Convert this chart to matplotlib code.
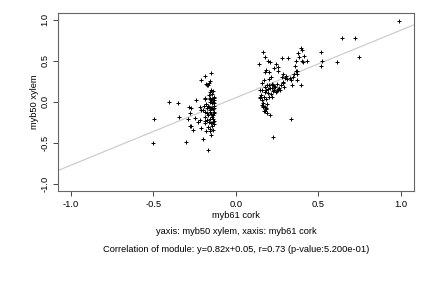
import matplotlib
matplotlib.use("Agg")
import matplotlib.pyplot as plt
import numpy as np

plt.rcParams['font.family'] = ['Liberation Sans', 'DejaVu Sans']

# myb61 cork (x) vs myb50 xylem (y)
cork_left = [-0.496, -0.502, -0.406, -0.35, -0.345, -0.30, -0.285, -0.27, -0.29, -0.28,
             -0.28, -0.275, -0.26, -0.25, -0.24, -0.215, -0.21, -0.215, -0.21, -0.20,
             -0.21, -0.23,
             -0.19, -0.18, -0.175, -0.165, -0.16, -0.15, -0.17,
             -0.19, -0.185, -0.18, -0.175, -0.17, -0.165, -0.16, -0.155, -0.15, -0.145,
             -0.14, -0.15, -0.145, -0.14, -0.135, -0.13, -0.145, -0.14, -0.135, -0.13,
             -0.16, -0.155, -0.15, -0.145, -0.14, -0.135, -0.13, -0.17, -0.175, -0.165,
             -0.16, -0.155, -0.15, -0.145, -0.17, -0.185, -0.19, -0.195, -0.2, -0.185,
             -0.175, -0.165, -0.155, -0.14, -0.13, -0.135, -0.15, -0.14, -0.145, -0.16,
             -0.17, -0.18, -0.19, -0.14, -0.135, -0.15, -0.155, -0.16, -0.13]
xylem_left = [-0.21, -0.50, 0.00, -0.02, -0.19, -0.49, -0.06, -0.08, -0.21, -0.14,
              -0.30, -0.29, -0.34, -0.20, 0.02, -0.06, -0.10, -0.22, -0.32, -0.45,
              0.27, -0.25,
              0.31, 0.22, 0.20, 0.23, 0.25, 0.35, 0.21,
              0.04, 0.05, -0.03, -0.08, -0.05, -0.06, 0.00, 0.12, 0.14, 0.10,
              0.13, 0.02, -0.02, 0.00, 0.06, -0.02, -0.07, -0.09, -0.12, -0.08,
              -0.10, -0.12, -0.15, -0.18, -0.21, -0.23, -0.27, -0.16, -0.22, -0.25,
              -0.33, -0.36, -0.40, -0.30, -0.31, -0.12, -0.18, -0.05, -0.10, -0.26,
              -0.14, 0.08, 0.05, -0.16, -0.14, -0.05, -0.26, -0.25, 0.04, -0.07,
              -0.59, -0.35, -0.23, -0.34, 0.02, -0.08, -0.21, 0.03, 0.05]

cork_right = [0.14, 0.165, 0.175, 0.193, 0.209, 0.231, 0.243, 0.279, 0.317, 0.357,
              0.367, 0.379, 0.394, 0.40, 0.385, 0.40, 0.416, 0.43, 0.41, 0.373,
              0.37, 0.368, 0.394, 0.343, 0.351, 0.327,
              0.311, 0.307, 0.289, 0.293, 0.267, 0.263, 0.249, 0.231, 0.221, 0.213,
              0.203, 0.199, 0.181, 0.175, 0.173, 0.159, 0.157, 0.155, 0.149, 0.145,
              0.145, 0.177, 0.181, 0.193, 0.203, 0.195, 0.179, 0.211, 0.223, 0.231,
              0.239, 0.243, 0.255, 0.207, 0.187, 0.171, 0.159, 0.167, 0.177, 0.185,
              0.177, 0.189, 0.171, 0.181, 0.191, 0.183, 0.199, 0.161, 0.165, 0.163,
              0.217, 0.227, 0.247, 0.271, 0.283, 0.297, 0.277, 0.257, 0.253, 0.287,
              0.333, 0.347, 0.363, 0.217, 0.205,
              0.335, 0.227,
              0.516, 0.52, 0.516, 0.612, 0.643, 0.723, 0.749, 0.99]
xylem_right = [0.46, 0.60, 0.54, 0.49, 0.48, 0.41, 0.46, 0.53, 0.53, 0.44,
               0.50, 0.59, 0.66, 0.63, 0.55, 0.49, 0.56, 0.50, 0.48, 0.38,
               0.34, 0.27, 0.21, 0.21, 0.34, 0.29,
               0.278, 0.315, 0.246, 0.181, 0.141, 0.169, 0.137, 0.19, 0.222, 0.302,
               0.274, 0.359, 0.391, 0.363, 0.27, 0.23, 0.141, 0.081, 0.06, 0.141,
               0.048, 0.181, 0.141, 0.161, 0.202, 0.101, 0.117, 0.097, 0.133, 0.149,
               0.181, 0.121, 0.161, 0.173, 0.202, 0.06, 0.02, -0.052, -0.06, -0.081,
               -0.117, -0.141, -0.109, -0.093, -0.024, 0.036, 0.06, -0.04, -0.069, -0.02,
               0.173, 0.2, 0.22, 0.2, 0.23, 0.294, 0.302, 0.371, 0.423, 0.335,
               0.262, 0.306, 0.375, 0.06, -0.161,
               -0.21, -0.43,
               0.61, 0.50, 0.44, 0.48, 0.78, 0.78, 0.55, 0.98]

slope, intercept = 0.82, 0.05
ticks = [-1.0, -0.5, 0.0, 0.5, 1.0]

x = np.array(cork_left + cork_right)
y = np.array(xylem_left + xylem_right)

fig = plt.figure(figsize=(4.32, 2.88), dpi=100)
ax = fig.add_axes([0.134, 0.338, 0.824, 0.617])

ax.scatter(x, y, marker='+', s=9, c='black', linewidths=0.7, zorder=3)
ax.axline((0, intercept), slope=slope, color='#c8c8c8', lw=0.8, zorder=2)

ax.set_xlim(-1.08, 1.08)
ax.set_ylim(-1.08, 1.08)
ax.set_xticks(ticks)
ax.set_yticks(ticks)
ax.set_xticklabels([f'{t:.1f}' for t in ticks])
ax.set_yticklabels([f'{t:.1f}' for t in ticks], rotation=90, va='center')
ax.tick_params(length=3.4, width=0.7, color='#444444', labelsize=6.7, pad=2.5)
ax.tick_params(axis='x', pad=3.5)
for s in ax.spines.values():
    s.set_color('#666666')
    s.set_linewidth(0.8)

ax.set_xlabel('myb61 cork', fontsize=6.7, va='center')
ax.xaxis.set_label_coords(0.5, -0.141)
ax.set_ylabel('myb50 xylem', fontsize=6.7, va='center')
ax.yaxis.set_label_coords(-0.0646, 0.5)

fig.text(0.546, 0.1955, 'yaxis: myb50 xylem, xaxis: myb61 cork',
         ha='center', va='center', fontsize=6.7)
fig.text(0.546, 0.1344,
         'Correlation of module: y=0.82x+0.05, r=0.73 (p-value:5.200e-01)',
         ha='center', va='center', fontsize=6.7)

fig.savefig('out.png', dpi=100)
